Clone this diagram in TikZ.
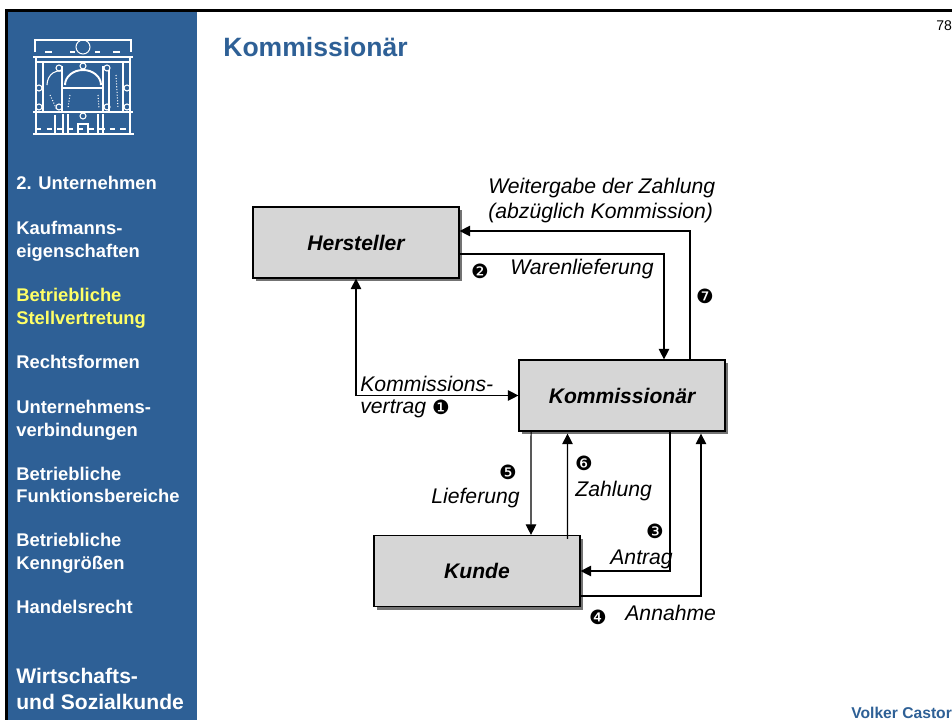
\documentclass[tikz,border=0pt]{standalone}
\usepackage{fontspec}
\setmainfont{Liberation Sans}
\newfontfamily\numfont{DejaVu Sans}
\usetikzlibrary{arrows.meta,shadows}
\definecolor{sideblue}{HTML}{2E6096}
\definecolor{sideyellow}{HTML}{FFFF66}
\definecolor{boxgray}{HTML}{D6D6D6}
\tikzset{
  partybox/.style={draw=black,line width=.7pt,fill=boxgray,minimum width=4.12cm,minimum height=1.42cm,inner sep=0pt,
    font=\fontsize{12}{14}\selectfont\bfseries\itshape,
    drop shadow={shadow xshift=.06cm,shadow yshift=-.06cm,fill=black!55,opacity=1}},
  flow/.style={line width=.6pt,>={Triangle[length=.21cm,width=.21cm]}},
  flowlabel/.style={anchor=west,inner sep=0pt,font=\fontsize{12.05}{14}\selectfont\itshape},
  stepnum/.style={inner sep=0pt,font=\fontsize{11.2}{12}\selectfont\numfont},
  sidelabel/.style={anchor=west,inner sep=0pt,align=left,text=white,font=\fontsize{10.45}{13}\selectfont\bfseries},
  logoline/.style={draw=white,line width=.6pt},
  logothick/.style={draw=white,line width=1.1pt}
}
\begin{document}
\begin{tikzpicture}[x=0.02cm,y=-0.02cm]
\useasboundingbox (0,0) rectangle (952,720);
\clip (0,0) rectangle (952,720);
\fill[white] (0,0) rectangle (952,720);
\fill[sideblue] (6,10) rectangle (197,720);
\fill[black] (5,9) rectangle (952,11.5);
\fill[black] (5,9) rectangle (7.5,720);

% logo
\draw[logoline] (35,52) -- (35,40) -- (131,40) -- (131,52);
\draw[logoline] (83,47) circle (7);
\draw[logoline] (45,52) -- (52,52) (70,52) -- (75,52) (95,52) -- (100,52) (113,52) -- (120,52);
\draw[logothick] (33,57) -- (133,57);
\draw[logoline] (36,62) -- (130,62);
\draw[logoline] (36,57) -- (36,112) (43,62) -- (43,112);
\draw[logoline] (130,57) -- (130,112) (123,62) -- (123,112);
\draw[logothick] (62,66) -- (62,112) (103,66) -- (103,112);
\draw[logoline] (109,70) -- (109,112);
\draw[logothick] (65,85) arc (180:360:18 and 15);
\draw[logothick] (63,88) -- (102,88);
\draw[logoline] (83,66) circle (3);
\draw[logoline] (59,68) circle (3) (107,68) circle (3);
\draw[logoline] (39,88) circle (3) (127,88) circle (3);
\draw[logoline] (39,107) circle (3) (127,107) circle (3);
\draw[logoline] (59,107) circle (3) (107,107) circle (3);
\draw[logoline] (83,116) circle (3);
\draw[logoline] (47,85) arc (180:280:12 and 14);
\draw[logoline,densely dotted] (50,95) -- (57,110) (116,75) -- (118,108) (70,95) -- (68,108) (98,95) -- (99,108);
\draw[logoline] (33,112) -- (133,112);
\draw[logoline] (36,112) -- (36,134) (130,112) -- (130,134);
\draw[logoline] (55,115) -- (55,133);
\draw[logothick] (63,114) -- (63,133) (68,114) -- (68,133) (98,114) -- (98,133) (103,114) -- (103,133);
\draw[logoline] (78,133) -- (78,124) -- (88,124) -- (88,133);
\draw[logoline,dashed] (36,129) -- (130,129);
\draw[logothick] (33,134) -- (134,134);

% navigation
\node[sidelabel] (nav1) at (16,183) {2. Unternehmen};
\node[sidelabel] (nav2) at (16,241) {Kaufmanns-\\eigenschaften};
\node[sidelabel,text=sideyellow] (nav3) at (16,308) {Betriebliche\\Stellvertretung};
\node[sidelabel] (nav4) at (16,362) {Rechtsformen};
\node[sidelabel] (nav5) at (16,420) {Unternehmens-\\verbindungen};
\node[sidelabel] (nav6) at (16,485) {Betriebliche\\Funktionsbereiche};
\node[sidelabel] (nav7) at (16,553) {Betriebliche\\Kenngrößen};
\node[sidelabel] (nav8) at (16,607) {Handelsrecht};
\node[sidelabel,font=\fontsize{12}{15.3}\selectfont\bfseries] (nav9) at (16,689) {Wirtschafts-\\und Sozialkunde};

% heading
\node[anchor=west,inner sep=0pt,text=sideblue,font=\fontsize{15.1}{17}\selectfont\bfseries] (title) at (223,47) {Kommissionär};
\node[anchor=west,inner sep=0pt,font=\fontsize{8}{10}\selectfont] (page) at (936,26) {78};
\node[anchor=west,inner sep=0pt,text=sideblue,font=\fontsize{8.9}{10}\selectfont\bfseries] (author) at (851,713) {Volker Castor};

% parties
\node[partybox] (hersteller) at (356,242.5) {Hersteller};
\node[partybox] (kommissionaer) at (622,395.5) {Kommissionär};
\node[partybox] (kunde) at (477,571) {Kunde};

% flows
\draw[flow,<->] (hersteller.south) |- (kommissionaer.west);
\draw[flow,->] ([yshift=-.23cm]hersteller.east) -| ([xshift=.84cm]kommissionaer.north);
\draw[flow,->] ([xshift=1.36cm]kommissionaer.north) |- ([yshift=.23cm]hersteller.east);
\draw[flow,->] ([xshift=-1.82cm]kommissionaer.south) -- ([xshift=1.08cm]kunde.north);
\draw[flow,->] ([xshift=1.81cm,yshift=-.08cm]kunde.north) -- ([xshift=-1.09cm,yshift=-.04cm]kommissionaer.south);
\draw[flow,->] ([xshift=.96cm]kommissionaer.south) |- (kunde.east);
\draw[flow,->] ([yshift=-.5cm]kunde.east) -| ([xshift=1.58cm,yshift=-.04cm]kommissionaer.south);

% labels
\node[flowlabel] (weitergabe1) at (488,188) {Weitergabe der Zahlung};
\node[flowlabel] (weitergabe2) at (488,213) {(abzüglich Kommission)};
\node[flowlabel] (waren) at (510,269) {Warenlieferung};
\node[flowlabel] (vertrag1) at (360,384) {Kommissions-};
\node[flowlabel] (vertrag2) at (360,409) {vertrag};
\node[flowlabel] (lieferung) at (431,498) {Lieferung};
\node[flowlabel] (zahlung) at (575,491) {Zahlung};
\node[flowlabel] (antrag) at (610,559) {Antrag};
\node[flowlabel] (annahme) at (625,613) {Annahme};

\node[stepnum] (n1) at (441,407) {❶};
\node[stepnum] (n2) at (480,271) {❷};
\node[stepnum] (n3) at (655,531) {❸};
\node[stepnum] (n4) at (598,617) {❹};
\node[stepnum] (n5) at (508,472) {❺};
\node[stepnum] (n6) at (584,463) {❻};
\node[stepnum] (n7) at (705,296) {❼};
\end{tikzpicture}
\end{document}
